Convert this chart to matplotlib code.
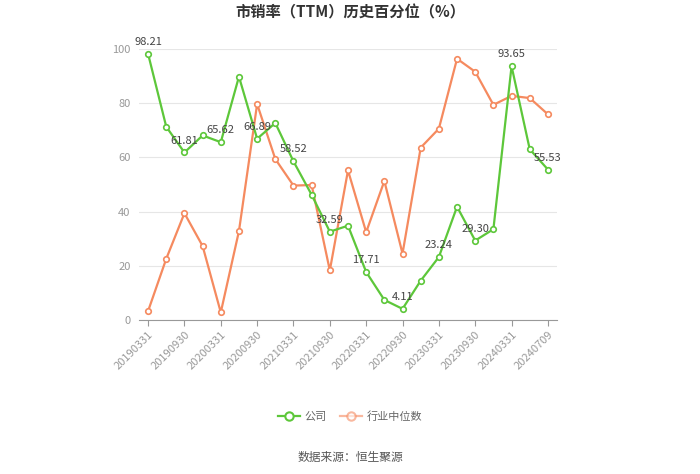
import matplotlib
matplotlib.use("Agg")
import matplotlib.pyplot as plt
from matplotlib.lines import Line2D

plt.rcParams['font.family'] = ['Noto Sans CJK SC', 'DejaVu Sans']

dates = ["20190331", "20190630", "20190930", "20191231", "20200331", "20200630",
         "20200930", "20201231", "20210331", "20210630", "20210930", "20211231",
         "20220331", "20220630", "20220930", "20221231", "20230331", "20230630",
         "20230930", "20231231", "20240331", "20240630", "20240709"]
company = [98.21, 71.3, 61.81, 68.1, 65.62, 89.8, 66.89, 72.7, 58.52, 46.2, 32.59, 34.8,
           17.71, 7.4, 4.11, 14.5, 23.24, 41.8, 29.30, 33.5, 93.65, 63.0, 55.53]
industry = [3.3, 22.6, 39.4, 27.3, 2.8, 32.8, 79.7, 59.4, 49.6, 49.8, 18.3, 55.2,
            32.4, 51.3, 24.5, 63.6, 70.6, 96.4, 91.6, 79.4, 82.7, 81.9, 75.9]
label_idx = list(range(0, len(dates), 2))

green = '#5dc73a'
orange = '#f58a5f'
gray = '#999999'

fig = plt.figure(figsize=(7, 4.74), dpi=100)
ax = fig.add_axes([139/700, 1-320/474, 418/700, 271/474])
x = list(range(len(dates)))

ax.plot(x, industry, color=orange, lw=1.6, marker='o', ms=4, mfc='white', mec=orange, mew=1.2, zorder=3)
ax.plot(x, company, color=green, lw=1.6, marker='o', ms=4, mfc='white', mec=green, mew=1.2, zorder=4)

for i in label_idx:
    ax.annotate(f"{company[i]:.2f}", (i, company[i]), xytext=(0, 5), textcoords='offset points',
                ha='center', va='bottom', fontsize=8, color='#444444', zorder=5)

ax.set_xlim(-0.5, len(dates) - 0.5)
ax.set_ylim(0, 100)
ax.set_yticks([0, 20, 40, 60, 80, 100])
ax.tick_params(axis='y', length=0, labelsize=8, labelcolor=gray, pad=6)
ax.set_xticks(label_idx)
ax.set_xticklabels([dates[i] for i in label_idx], rotation=45, ha='right', rotation_mode='anchor',
                   fontsize=8, color=gray)
ax.tick_params(axis='x', length=4, color=gray, pad=3)
ax.grid(axis='y', color='#e6e6e6', lw=0.8)
ax.set_axisbelow(True)
for s in ['top', 'right', 'left']:
    ax.spines[s].set_visible(False)
ax.spines['bottom'].set_color(gray)

fig.text(0.5, 1-12/474, "市销率（TTM）历史百分位（%）", ha='center', va='center',
         fontsize=11, fontweight='bold', color='#333333')

handles = [Line2D([0], [0], color=green, lw=1.6, marker='o', ms=6, mfc='white', mec=green, mew=1.5),
           Line2D([0], [0], color=orange, lw=1.6, marker='o', ms=6, mfc='white', mec=orange, mew=1.5, alpha=0.6)]
leg = fig.legend(handles, ["公司", "行业中位数"], loc='center', bbox_to_anchor=(0.5, 1-417/474),
                 ncol=2, frameon=False, fontsize=8, handlelength=2, columnspacing=1.2, handletextpad=0.4)
for t in leg.get_texts():
    t.set_color('#666666')

fig.text(0.5, 1-457/474, "数据来源：恒生聚源", ha='center', va='center', fontsize=8.5, color='#555555')

fig.savefig("out.png", dpi=100)
